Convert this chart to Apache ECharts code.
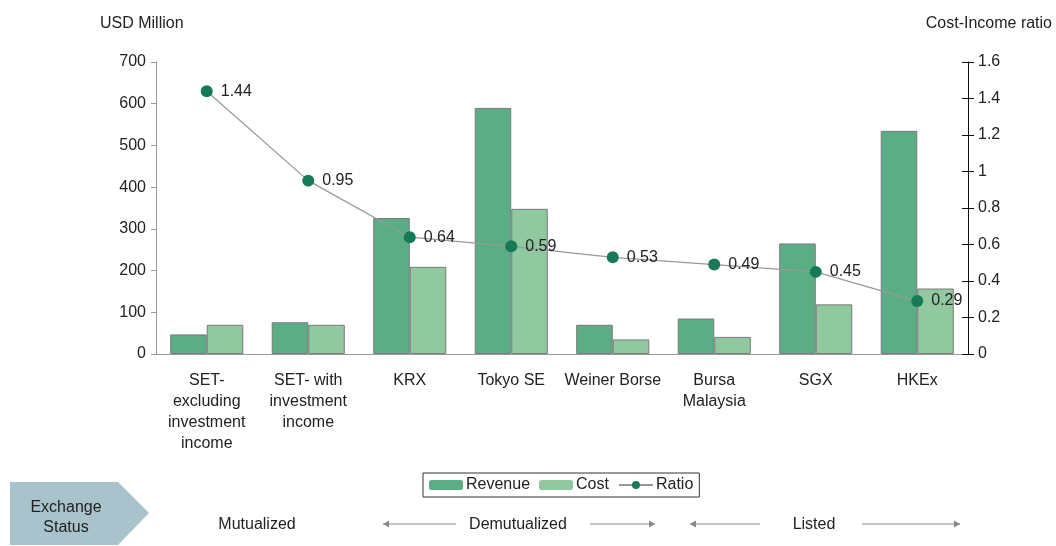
<!DOCTYPE html>
<html lang="en">
<head>
    <meta charset="UTF-8">
    <title>Exchange revenue and cost</title>
    <script src="https://cdn.jsdelivr.net/npm/echarts@6/dist/echarts.min.js"></script>
    <style>
        html, body {margin: 0; padding: 0; background: #fff;}
        #main {width: 1056px; height: 546px;}
    </style>
</head>
<body>
<div id="main"></div>
<script>
    // data
    var categories = ['SET-\nexcluding\ninvestment\nincome', 'SET- with\ninvestment\nincome', 'KRX', 'Tokyo SE',
        'Weiner Borse', 'Bursa\nMalaysia', 'SGX', 'HKEx'];
    var revenue = [47, 76, 326, 590, 70, 85, 265, 535];
    var cost = [70, 70, 209, 348, 35, 41, 119, 157];
    var ratio = [1.44, 0.95, 0.64, 0.59, 0.53, 0.49, 0.45, 0.29];
    var statusLabels = ['Mutualized', 'Demutualized', 'Listed'];

    var font = '"Liberation Sans", Arial, sans-serif';
    var fs = 16;
    var txt = '#222';
    var arrowGrey = '#8a8a8a';

    var myChart = echarts.init(document.getElementById('main'));

    // little helper for the grey arrows under the chart
    function arrow(x1, x2, y) {
        var dir = x2 > x1 ? 1 : -1;
        return [
            {type: 'line', shape: {x1: x1, y1: y, x2: x2, y2: y}, style: {stroke: arrowGrey, lineWidth: 1.2}},
            {type: 'polygon', shape: {points: [[x2, y], [x2 - dir * 6, y - 3.5], [x2 - dir * 6, y + 3.5]]},
                style: {fill: arrowGrey}}
        ];
    }

    var graphics = [
        {type: 'polygon', shape: {points: [[10, 482], [118, 482], [149, 513], [118, 545], [10, 545]]},
            style: {fill: '#a9c3cc'}},
        {type: 'text', x: 66, y: 518, style: {text: 'Exchange\nStatus', font: fs + 'px ' + font, fill: txt,
                align: 'center', verticalAlign: 'middle', lineHeight: 20}},
        {type: 'text', x: 257, y: 525, style: {text: statusLabels[0], font: fs + 'px ' + font, fill: txt,
                align: 'center', verticalAlign: 'middle'}},
        {type: 'text', x: 518, y: 525, style: {text: statusLabels[1], font: fs + 'px ' + font, fill: txt,
                align: 'center', verticalAlign: 'middle'}},
        {type: 'text', x: 814, y: 525, style: {text: statusLabels[2], font: fs + 'px ' + font, fill: txt,
                align: 'center', verticalAlign: 'middle'}}
    ];
    graphics = graphics.concat(arrow(456, 383, 524), arrow(590, 655, 524), arrow(760, 690, 524), arrow(862, 960, 524));

    var option = {
        animation: false,
        textStyle: {fontFamily: font},
        grid: {left: 156, right: 88, top: 62, bottom: 192},
        legend: {
            left: 423, top: 473,
            data: ['Revenue', 'Cost', 'Ratio'],
            borderColor: '#333', borderWidth: 1, borderRadius: 0,
            padding: [4, 6, 4, 6],
            itemGap: 9, itemWidth: 34, itemHeight: 10,
            itemStyle: {borderWidth: 0},
            textStyle: {fontSize: fs, color: txt, fontFamily: font, padding: [0, 0, 0, -2]}
        },
        graphic: graphics,
        xAxis: {
            type: 'category',
            data: categories,
            axisLine: {lineStyle: {color: '#999'}},
            axisTick: {lineStyle: {color: '#999'}, length: 5},
            axisLabel: {fontSize: fs, color: txt, fontFamily: font, lineHeight: 21, margin: 16, interval: 0, align: 'center'}
        },
        yAxis: [
            {
                type: 'value', min: 0, max: 700, interval: 100,
                name: 'USD Million', nameLocation: 'end', nameGap: 30,
                nameTextStyle: {fontSize: fs, color: txt, fontFamily: font, align: 'left', padding: [0, 0, 0, -56]},
                axisLine: {show: true, lineStyle: {color: '#999'}},
                axisTick: {show: true, length: 5, lineStyle: {color: '#999'}},
                axisLabel: {fontSize: fs, color: txt, fontFamily: font, margin: 10},
                splitLine: {show: false}
            },
            {
                type: 'value', min: 0, max: 1.6, interval: 0.2, position: 'right',
                name: 'Cost-Income ratio', nameLocation: 'end', nameGap: 30,
                nameTextStyle: {fontSize: fs, color: txt, fontFamily: font, align: 'right', padding: [0, -84, 0, 0]},
                axisLine: {show: true, lineStyle: {color: '#111'}},
                axisTick: {show: true, length: 6, lineStyle: {color: '#111'}},
                axisLabel: {fontSize: fs, color: txt, fontFamily: font, margin: 10},
                splitLine: {show: false}
            },
            {
                // inner half of the crossing ticks on the right axis
                type: 'value', min: 0, max: 1.6, interval: 0.2, position: 'right',
                axisLine: {show: false},
                axisTick: {show: true, inside: true, length: 6, lineStyle: {color: '#111'}},
                axisLabel: {show: false},
                splitLine: {show: false}
            }
        ],
        series: [
            {
                name: 'Revenue', type: 'bar', data: revenue,
                barGap: '0%', barCategoryGap: '28%',
                itemStyle: {color: '#5aad84', borderColor: '#7a7a7a', borderWidth: 1}
            },
            {
                name: 'Cost', type: 'bar', data: cost,
                itemStyle: {color: '#90c8a0', borderColor: '#7a7a7a', borderWidth: 1}
            },
            {
                name: 'Ratio', type: 'line', yAxisIndex: 1, data: ratio,
                symbol: 'circle', symbolSize: 12, z: 5,
                lineStyle: {color: '#999', width: 1.3},
                itemStyle: {color: '#177a56'},
                label: {show: true, position: 'right', distance: 8, fontSize: fs, color: txt, fontFamily: font}
            }
        ]
    };

    myChart.setOption(option);
</script>
</body>
</html>
